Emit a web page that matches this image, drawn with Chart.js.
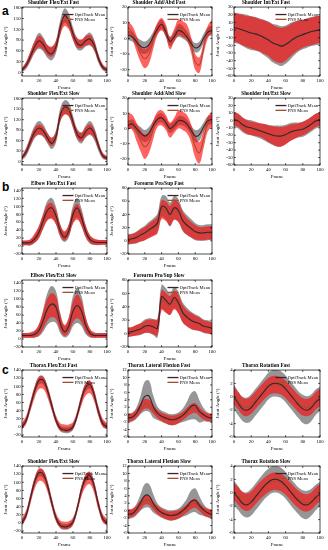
<!DOCTYPE html>
<html><head><meta charset="utf-8">
<script src="https://cdn.jsdelivr.net/npm/chart.js@4.4.1/dist/chart.umd.min.js"></script>
<style>
html,body{margin:0;padding:0;background:#fff;}
body{width:328px;height:550px;position:relative;overflow:hidden;font-family:"Liberation Serif",serif;}
canvas{position:absolute;}
.lab{position:absolute;font-family:"Liberation Sans",Arial,sans-serif;font-weight:bold;font-size:12px;line-height:12px;}
</style></head>
<body>
<div class="lab" style="left:2px;top:5px">a</div>
<div class="lab" style="left:2px;top:181px">b</div>
<div class="lab" style="left:2px;top:364px">c</div>
<script>
// ---------------- DATA ----------------
const FRAMES = [0,5,10,15,20,25,30,35,40,45,50,55,60,65,70,75,80,85,90,95,100];
const X_TICKS = [0,20,40,60,80,100];

// a1 Shoulder Flex/Ext Fast
const shFlexFastOpt   = [6,20,45,72,88,78,58,52,72,125,158,145,108,80,76,88,93,75,38,14,6];
const shFlexFastOptSD = [6,10,14,18,22,20,18,18,18,20,20,20,18,16,14,16,18,16,12,8,6];
const shFlexFastPns   = [8,22,46,72,86,78,62,58,74,120,145,136,104,82,80,88,90,74,40,16,8];
const shFlexFastPnsSD = [5,8,12,14,16,15,14,14,14,16,16,16,14,13,12,13,14,12,10,7,5];
const shFlexTicks = [0,30,60,90,120,150,180];

// a2 Shoulder Add/Abd Fast
const shAbdFastOpt   = [2,1,-2,-5,-6,-4,1,6,9,4,-2,1,5,4,1,-3,-6,-5,0,4,5];
const shAbdFastOptSD = [3,3,3,4,4,4,3,3,3,3,3,3,4,4,3,3,3,3,3,3,3];
const shAbdFastPns   = [7,4,-3,-10,-13,-10,-2,6,9,5,-3,2,7,6,4,-4,-15,-17,-6,4,8];
const shAbdFastPnsSD = [4,4,5,5,6,6,5,4,4,4,4,4,5,5,5,5,5,5,4,4,4];
const shAbdTicks = [-20,-10,0,10,20];

// a3 Shoulder Int/Ext Fast
const shRotFastOpt   = [3,2,0,-2,-4,-5,-7,-10,-13,-17,-19,-21,-19,-15,-11,-8,-6,-4,-2,-1,0];
const shRotFastOptSD = [20,20,21,22,22,22,22,23,24,25,26,26,25,24,22,20,19,19,19,19,19];
const shRotFastPns   = [4,2,0,-2,-3,-5,-7,-9,-12,-16,-19,-20,-18,-14,-10,-7,-5,-3,-2,0,1];
const shRotFastPnsSD = [19,19,20,20,21,21,21,22,22,23,23,23,22,21,20,19,18,18,18,18,18];
const shRotTicks = [-60,-50,-40,-30,-20,-10,0,10,20,30];

// a4 Shoulder Flex/Ext Slow
const shFlexSlowOpt   = [10,28,58,85,96,88,67,52,72,133,156,150,114,78,68,86,96,80,44,16,9];
const shFlexSlowOptSD = [6,12,16,18,20,18,16,16,18,20,20,20,18,16,16,18,20,18,14,8,6];
const shFlexSlowPns   = [12,30,58,83,92,86,68,56,74,128,148,143,110,78,70,85,93,79,46,18,10];
const shFlexSlowPnsSD = [5,9,12,13,14,13,12,12,13,14,14,14,13,12,12,13,14,13,10,7,5];

// a5 Shoulder Add/Abd Slow
const shAbdSlowOpt   = [2,3,0,-3,-5,-3,2,6,7,4,0,2,5,5,3,-1,-5,-4,1,5,6];
const shAbdSlowOptSD = [3,3,3,4,4,4,3,3,3,3,3,3,3,3,3,3,4,4,3,3,3];
const shAbdSlowPns   = [5,4,-2,-8,-12,-9,-1,6,7,4,-1,2,6,5,3,-3,-12,-16,-7,3,6];
const shAbdSlowPnsSD = [5,5,6,7,8,7,6,5,5,5,5,5,6,6,6,6,7,7,6,5,5];

// a6 Shoulder Int/Ext Slow
const shRotSlowOpt   = [1,-1,-6,-9,-10,-12,-14,-16,-18,-20,-21,-21,-19,-16,-14,-13,-12,-9,-5,-1,1];
const shRotSlowOptSD = [10,10,10,10,10,10,10,11,12,13,14,14,13,12,11,10,10,10,10,10,10];
const shRotSlowPns   = [2,0,-5,-9,-11,-12,-13,-15,-18,-20,-22,-22,-20,-17,-15,-13,-11,-8,-4,0,2];
const shRotSlowPnsSD = [9,9,9,9,9,9,9,10,11,12,13,13,12,11,10,9,9,9,9,9,9];

// b1 Elbow Flex/Ext Fast
const elFlexFastOpt   = [8,8,9,18,35,64,90,96,76,38,22,38,80,96,72,36,16,10,9,9,9];
const elFlexFastOptSD = [6,6,7,10,15,20,24,25,22,16,12,16,22,25,22,16,10,7,6,6,6];
const elFlexFastPns   = [8,8,10,20,36,62,84,88,72,40,26,40,74,86,68,38,18,11,9,9,9];
const elFlexFastPnsSD = [6,6,8,12,16,18,20,20,18,14,12,14,18,20,18,14,10,8,7,6,6];
const elFlexTicks = [-20,0,20,40,60,80,100,120,140];

// b2 Forearm Pro/Sup Fast
const faProFastOpt   = [2,3,5,9,12,17,21,27,52,50,40,50,46,31,24,19,14,12,12,13,13];
const faProFastOptSD = [8,8,9,10,11,12,13,14,16,18,18,18,17,16,15,14,13,12,12,12,12];
const faProFastPns   = [2,3,5,8,11,15,19,24,47,45,38,47,43,30,22,17,13,11,11,12,12];
const faProFastPnsSD = [7,7,8,9,10,11,12,13,14,15,15,15,15,14,13,12,11,10,10,10,10];
const faProTicks = [-20,0,20,40,60,80];

// b3 Elbow Flex/Ext Slow
const elFlexSlowOpt   = [9,9,9,12,22,47,76,88,80,40,18,32,70,84,70,34,14,9,9,9,9];
const elFlexSlowOptSD = [6,6,6,8,15,28,40,45,40,25,14,22,38,44,38,22,10,6,6,6,6];
const elFlexSlowPns   = [9,9,10,13,24,48,74,85,78,42,22,35,68,82,68,36,16,10,9,9,9];
const elFlexSlowPnsSD = [6,6,7,9,14,22,28,30,28,20,14,18,26,30,26,18,10,7,6,6,6];

// b4 Forearm Pro/Sup Slow
const faProSlowOpt   = [2,3,5,7,11,12,10,8,55,50,44,54,46,32,25,20,17,15,11,10,8];
const faProSlowOptSD = [7,7,8,9,10,11,12,14,18,18,16,16,16,15,14,13,12,11,10,10,10];
const faProSlowPns   = [2,3,5,7,10,11,10,9,50,46,42,50,44,30,23,19,16,14,11,9,8];
const faProSlowPnsSD = [7,7,8,8,9,10,11,12,15,15,14,14,14,13,12,12,11,10,9,9,9];

// c1 Thorax Flex/Ext Fast
const thFlexFastOpt   = [0,16,53,90,115,115,90,53,16,-4,-8,-8,0,29,70,98,104,78,37,8,0];
const thFlexFastOptSD = [6,8,10,10,10,10,10,10,8,7,7,7,7,8,10,10,10,10,10,8,6];
const thFlexFastPns   = [2,18,52,86,108,108,86,52,18,0,-3,-3,3,30,66,92,98,76,38,10,2];
const thFlexFastPnsSD = [8,10,12,14,15,15,14,12,10,9,9,9,9,10,13,15,15,14,12,10,8];
const thFlexTicks = [-20,0,20,40,60,80,100,120,140];

// c2 Thorax Lateral Flexion Fast
const thLatFastOpt   = [-0.9,-0.7,0.4,2.6,4.9,5.0,2.2,0.4,-0.4,-0.9,-1.3,-1.3,-0.9,-0.2,0.9,2.2,2.5,0.9,0.0,-0.7,-0.9];
const thLatFastOptSD = [1.2,1.2,1.5,2.5,4.0,4.2,3.0,1.8,1.5,1.5,1.5,1.5,1.5,1.8,2.5,3.5,3.8,3.0,1.8,1.3,1.2];
const thLatFastPns   = [-0.8,-0.6,0.3,1.8,2.9,2.8,1.5,0.2,-0.6,-1.1,-1.5,-1.5,-1.1,-0.4,0.6,1.5,1.8,0.8,-0.2,-0.7,-0.8];
const thLatFastPnsSD = [1.0,1.0,1.1,1.2,1.3,1.3,1.2,1.1,1.1,1.2,1.3,1.3,1.2,1.1,1.2,1.3,1.3,1.2,1.1,1.0,1.0];
const thLatTicks = [-6,-4,-2,0,2,4,6,8,10,12];

// c3 Thorax Rotation Fast
const thRotFastOpt   = [0,-1,-1.8,-2,-1.6,-0.8,0,0.8,1.6,2.0,2.0,1.8,1.2,0.4,-0.4,-1.2,-1.8,-2.0,-1.6,-0.8,-0.3];
const thRotFastOptSD = [1.8,1.8,1.8,1.9,2,2,2,2,2,2,2,2,2,2,2,2,2.1,2.1,2,1.9,1.8];
const thRotFastPns   = [0.2,-0.6,-1.4,-1.6,-1.2,-0.5,0.2,0.9,1.5,1.8,1.8,1.6,1.1,0.4,-0.3,-1.0,-1.5,-1.6,-1.3,-0.6,-0.1];
const thRotFastPnsSD = [1.3,1.3,1.3,1.3,1.3,1.3,1.3,1.3,1.3,1.3,1.3,1.3,1.3,1.3,1.3,1.3,1.3,1.3,1.3,1.3,1.3];
const thRotTicks = [-6,-4,-2,0,2,4];

// c4 Shoulder Flex/Ext Slow (panel c)
const thFlexSlowOpt   = [0,20,62,102,124,120,92,50,12,-6,-10,-8,2,36,82,110,116,90,44,10,0];
const thFlexSlowOptSD = [6,8,10,10,10,10,10,10,8,7,7,7,7,8,10,10,10,10,10,8,6];
const thFlexSlowPns   = [2,22,60,98,118,115,90,50,14,-3,-6,-5,4,36,78,104,110,86,44,12,2];
const thFlexSlowPnsSD = [8,10,12,14,15,15,14,12,10,9,9,9,9,10,13,15,15,14,12,10,8];

// c5 Thorax Lateral Flexion Slow
const thLatSlowOpt   = [-1,-0.8,0.3,2.2,4.0,4.0,2.0,0.4,-0.5,-1,-1.3,-1.2,-0.8,0,1,2.4,2.8,1.4,0.2,-0.6,-1];
const thLatSlowOptSD = [1.2,1.2,1.5,2.2,3.2,3.2,2.5,1.6,1.4,1.4,1.4,1.4,1.4,1.6,2.2,3,3.2,2.5,1.6,1.2,1.2];
const thLatSlowPns   = [-0.8,-0.6,0.2,1.6,2.8,2.7,1.4,0.2,-0.6,-1.1,-1.4,-1.3,-1,-0.3,0.6,1.6,2,1,-0.1,-0.6,-0.8];
const thLatSlowPnsSD = [1.1,1.1,1.1,1.2,1.2,1.2,1.1,1.1,1.1,1.1,1.2,1.2,1.1,1.1,1.1,1.2,1.2,1.1,1.1,1.1,1.1];

// c6 Thorax Rotation Slow
const thRotSlowOpt   = [0,-0.8,-1.6,-1.8,-1.4,-0.6,0.2,1,1.6,2,2,1.7,1.1,0.3,-0.5,-1.2,-1.7,-1.8,-1.4,-0.7,-0.2];
const thRotSlowOptSD = [1.8,1.8,1.8,1.9,2,2,2,2,2,2,2,2,2,2,2,2,2.1,2.1,2,1.9,1.8];
const thRotSlowPns   = [0.2,-0.5,-1.2,-1.4,-1.1,-0.4,0.3,0.9,1.4,1.7,1.7,1.5,1,0.3,-0.4,-1,-1.4,-1.5,-1.2,-0.5,0];
const thRotSlowPnsSD = [1.3,1.3,1.3,1.3,1.3,1.3,1.3,1.3,1.3,1.3,1.3,1.3,1.3,1.3,1.3,1.3,1.3,1.3,1.3,1.3,1.3];

const SERIES_NAMES = ['OptiTrack Mean','PNS Mean'];
const X_TITLE = 'Frame';
const Y_TITLE = 'Joint Angle (\u00B0)';

// ---------------- LAYOUT / STYLE ----------------
const COL_L = [22,128,234], COL_W = [85,84,86];
const ROW_T = [7,98,188,280,370,466], ROW_H = [69,67,66,67,67,67];
const FONT = '"Liberation Serif","Times New Roman",serif';
const OPT_LINE = '#3a2230', PNS_LINE = '#a4502c';
const OPT_BAND = 'rgba(110,110,110,0.72)', PNS_BAND = 'rgba(255,10,10,0.64)';

const PANELS = [
  {t:'Shoulder Flex/Ext Fast', r:0,c:0, o:shFlexFastOpt,os:shFlexFastOptSD,p:shFlexFastPns,ps:shFlexFastPnsSD, ticks:shFlexTicks, min:-10,max:182},
  {t:'Shoulder Add/Abd Fast', r:0,c:1, o:shAbdFastOpt,os:shAbdFastOptSD,p:shAbdFastPns,ps:shAbdFastPnsSD, ticks:shAbdTicks, min:-24,max:20},
  {t:'Shoulder Int/Ext Fast', r:0,c:2, o:shRotFastOpt,os:shRotFastOptSD,p:shRotFastPns,ps:shRotFastPnsSD, ticks:shRotTicks, min:-60,max:30},
  {t:'Shoulder Flex/Ext Slow', r:1,c:0, o:shFlexSlowOpt,os:shFlexSlowOptSD,p:shFlexSlowPns,ps:shFlexSlowPnsSD, ticks:shFlexTicks, min:-10,max:182},
  {t:'Shoulder Add/Abd Slow', r:1,c:1, o:shAbdSlowOpt,os:shAbdSlowOptSD,p:shAbdSlowPns,ps:shAbdSlowPnsSD, ticks:shAbdTicks, min:-24,max:20},
  {t:'Shoulder Int/Ext Slow', r:1,c:2, o:shRotSlowOpt,os:shRotSlowOptSD,p:shRotSlowPns,ps:shRotSlowPnsSD, ticks:shRotTicks, min:-60,max:30},
  {t:'Elbow Flex/Ext Fast', r:2,c:0, o:elFlexFastOpt,os:elFlexFastOptSD,p:elFlexFastPns,ps:elFlexFastPnsSD, ticks:elFlexTicks, min:-20,max:146},
  {t:'Forearm Pro/Sup Fast', r:2,c:1, o:faProFastOpt,os:faProFastOptSD,p:faProFastPns,ps:faProFastPnsSD, ticks:faProTicks, min:-20,max:80},
  {t:'Elbow Flex/Ext Slow', r:3,c:0, o:elFlexSlowOpt,os:elFlexSlowOptSD,p:elFlexSlowPns,ps:elFlexSlowPnsSD, ticks:elFlexTicks, min:-20,max:148},
  {t:'Forearm Pro/Sup Slow', r:3,c:1, o:faProSlowOpt,os:faProSlowOptSD,p:faProSlowPns,ps:faProSlowPnsSD, ticks:faProTicks, min:-20,max:80},
  {t:'Thorax Flex/Ext Fast', r:4,c:0, o:thFlexFastOpt,os:thFlexFastOptSD,p:thFlexFastPns,ps:thFlexFastPnsSD, ticks:thFlexTicks, min:-25,max:140},
  {t:'Thorax Lateral Flexion Fast', r:4,c:1, o:thLatFastOpt,os:thLatFastOptSD,p:thLatFastPns,ps:thLatFastPnsSD, ticks:thLatTicks, min:-6,max:12},
  {t:'Thorax Rotation Fast', r:4,c:2, o:thRotFastOpt,os:thRotFastOptSD,p:thRotFastPns,ps:thRotFastPnsSD, ticks:thRotTicks, min:-6,max:4},
  {t:'Shoulder Flex/Ext Slow', r:5,c:0, o:thFlexSlowOpt,os:thFlexSlowOptSD,p:thFlexSlowPns,ps:thFlexSlowPnsSD, ticks:thFlexTicks, min:-25,max:140},
  {t:'Thorax Lateral Flexion Slow', r:5,c:1, o:thLatSlowOpt,os:thLatSlowOptSD,p:thLatSlowPns,ps:thLatSlowPnsSD, ticks:thLatTicks, min:-6,max:12},
  {t:'Thorax Rotation Slow', r:5,c:2, o:thRotSlowOpt,os:thRotSlowOptSD,p:thRotSlowPns,ps:thRotSlowPnsSD, ticks:thRotTicks, min:-6,max:4}
];

const pts = arr => FRAMES.map((f,i)=>({x:f,y:arr[i]}));
const addSD = (m,s,k) => m.map((v,i)=>v + k*s[i]);

// frame box, inward ticks and legend drawn over the data
const framePlugin = {
  id:'frameBox',
  afterDraw(chart){
    const {ctx, chartArea:a, scales:{x,y}} = chart;
    ctx.save();
    ctx.strokeStyle = '#000'; ctx.lineWidth = 0.7;
    ctx.strokeRect(a.left, a.top, a.right-a.left, a.bottom-a.top);
    ctx.beginPath();
    x.ticks.forEach(t=>{const px=x.getPixelForValue(t.value); ctx.moveTo(px,a.bottom); ctx.lineTo(px,a.bottom-1.8); ctx.moveTo(px,a.top); ctx.lineTo(px,a.top+1.8);});
    y.ticks.forEach(t=>{const py=y.getPixelForValue(t.value); ctx.moveTo(a.left,py); ctx.lineTo(a.left+1.8,py); ctx.moveTo(a.right,py); ctx.lineTo(a.right-1.8,py);});
    ctx.stroke();
    // legend
    const items = chart.data.datasets.filter(d=>d.label);
    ctx.font = '4.6px ' + FONT;
    ctx.textBaseline = 'middle'; ctx.fillStyle = '#000';
    const tw = Math.max(...items.map(d=>ctx.measureText(d.label).width));
    const sw = 11, gap = 1.2;
    const x0 = a.right - 2 - tw - gap - sw;
    items.forEach((d,i)=>{
      const yy = a.top + 7.5 + i*4.8;
      ctx.strokeStyle = d.borderColor; ctx.lineWidth = 1.3;
      ctx.beginPath(); ctx.moveTo(x0,yy); ctx.lineTo(x0+sw,yy); ctx.stroke();
      ctx.fillText(d.label, x0+sw+gap, yy+0.2);
    });
    ctx.restore();
  }
};

PANELS.forEach((P,idx)=>{
  const L = COL_L[P.c], T = ROW_T[P.r], W = COL_W[P.c], H = ROW_H[P.r];
  const cv = document.createElement('canvas');
  const cw = W + 28, ch = H + 23;
  cv.width = cw; cv.height = ch;
  cv.style.left = (L-22)+'px'; cv.style.top = (T-7)+'px';
  cv.style.width = cw+'px'; cv.style.height = ch+'px';
  document.body.appendChild(cv);
  const ticks = P.ticks;
  new Chart(cv.getContext('2d'), {
    type:'line',
    data:{ datasets:[
      {label:SERIES_NAMES[0], data:pts(P.o), borderColor:OPT_LINE, backgroundColor:OPT_LINE, borderWidth:1.1, pointRadius:0, tension:0.4, fill:false, order:0},
      {label:SERIES_NAMES[1], data:pts(P.p), borderColor:PNS_LINE, backgroundColor:PNS_LINE, borderWidth:1.1, pointRadius:0, tension:0.4, fill:false, order:1},
      {label:'', data:pts(addSD(P.p,P.ps,1)), borderWidth:0, pointRadius:0, tension:0.4, fill:'+1', backgroundColor:PNS_BAND, order:2},
      {label:'', data:pts(addSD(P.p,P.ps,-1)), borderWidth:0, pointRadius:0, tension:0.4, fill:false, order:3},
      {label:'', data:pts(addSD(P.o,P.os,1)), borderWidth:0, pointRadius:0, tension:0.4, fill:'+1', backgroundColor:OPT_BAND, order:4},
      {label:'', data:pts(addSD(P.o,P.os,-1)), borderWidth:0, pointRadius:0, tension:0.4, fill:false, order:5}
    ]},
    options:{
      responsive:false, animation:false, devicePixelRatio:1,
      layout:{padding:{left:0,right:6,top:0,bottom:0}},
      plugins:{
        legend:{display:false}, tooltip:{enabled:false},
        title:{display:true, text:P.t, color:'#000', font:{family:FONT, size:5.2, weight:'bold', lineHeight:1.2}, padding:{top:0,bottom:0.8}}
      },
      scales:{
        x:{type:'linear', min:0, max:100,
           afterBuildTicks:s=>{s.ticks = X_TICKS.map(v=>({value:v}));},
           afterFit:s=>{s.height = 16;},
           grid:{display:false, drawTicks:false}, border:{display:false},
           ticks:{font:{family:FONT,size:4.8}, color:'#000', padding:1.6, maxRotation:0, autoSkip:false},
           title:{display:true, text:X_TITLE, font:{family:FONT,size:5}, color:'#000', padding:{top:0,bottom:1.5}}},
        y:{type:'linear', min:P.min, max:P.max,
           afterBuildTicks:s=>{s.ticks = ticks.map(v=>({value:v}));},
           afterFit:s=>{s.width = 22;},
           grid:{display:false, drawTicks:false}, border:{display:false},
           ticks:{font:{family:FONT,size:4.8}, color:'#000', padding:1.3, autoSkip:false},
           title:{display:true, text:Y_TITLE, font:{family:FONT,size:5}, color:'#000', padding:{top:3,bottom:0}}}
      }
    },
    plugins:[framePlugin]
  });
});
</script>
</body></html>
